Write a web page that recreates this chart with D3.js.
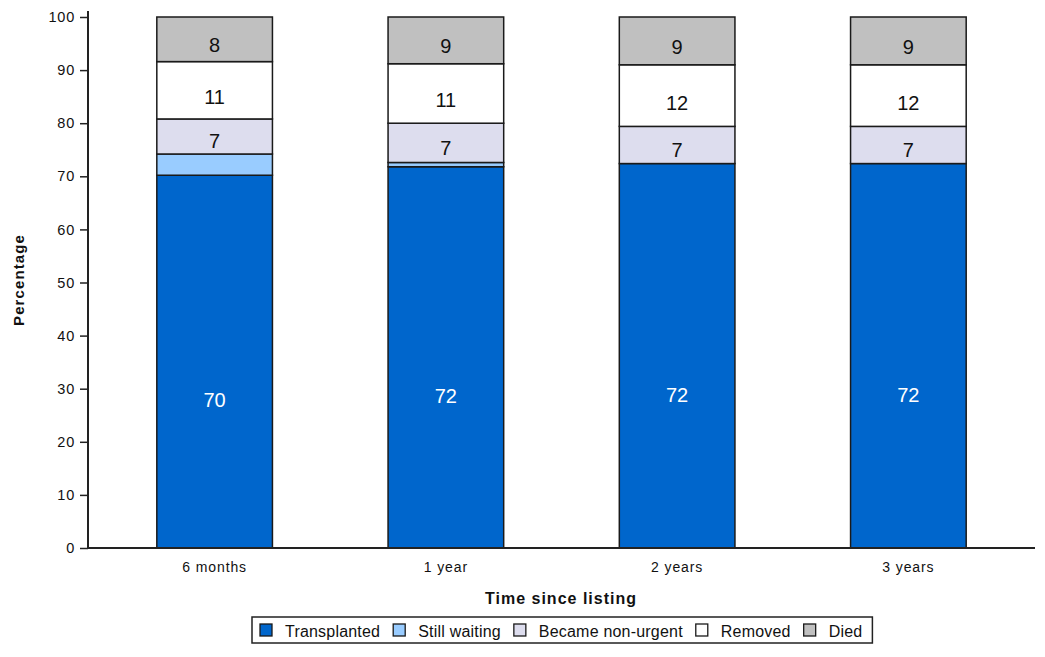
<!DOCTYPE html>
<html>
<head>
<meta charset="utf-8">
<script src="https://cdn.jsdelivr.net/npm/d3@7"></script>
<style>
  body { margin: 0; background: #fff; }
  svg text { font-family: "Liberation Sans", Arial, sans-serif; fill: #111; }
</style>
</head>
<body>
<svg id="chart"></svg>
<script>
// data (percent of patients)
const categories = ["6 months", "1 year", "2 years", "3 years"];
const transplanted = [70.2, 71.8, 72.4, 72.4];
const stillWaiting = [4.0, 0.8, 0, 0];
const nonUrgent = [6.6, 7.4, 7.0, 7.0];
const removed = [10.8, 11.2, 11.6, 11.6];
const died = [8.4, 8.8, 9.0, 9.0];
const seriesNames = ["Transplanted", "Still waiting", "Became non-urgent", "Removed", "Died"];
const seriesColors = ["#0066cc", "#99ccff", "#ddddee", "#ffffff", "#c0c0c0"];
const yTicks = [0, 10, 20, 30, 40, 50, 60, 70, 80, 90, 100];

const width = 1045;
const height = 657;

const svg = d3.select("#chart").attr("width", width).attr("height", height);

// build rows for the stack
const allSeries = [transplanted, stillWaiting, nonUrgent, removed, died];
const rows = categories.map((c, i) => {
  let row = { cat: c };
  seriesNames.forEach((s, k) => { row[s] = allSeries[k][i]; });
  return row;
});
const stacked = d3.stack().keys(seriesNames)(rows);

const xScale = d3.scaleBand()
  .domain(categories)
  .range([99, 1024])
  .paddingInner(0.5)
  .paddingOuter(0.25);

const yScale = d3.scaleLinear().domain([0, 100]).range([548, 17]);

// y axis
const yAxis = d3.axisLeft(yScale).tickValues(yTicks).tickSize(8).tickPadding(5);
const gy = svg.append("g").attr("transform", "translate(88,0)").call(yAxis);
gy.select(".domain").remove();
gy.selectAll(".tick line").attr("stroke", "#222").attr("stroke-width", 1.5);
gy.selectAll(".tick text").style("font-size", "14.5px").style("letter-spacing", "0.8px");
svg.append("line")
  .attr("x1", 88).attr("x2", 88).attr("y1", 548).attr("y2", 11)
  .attr("stroke", "#222").attr("stroke-width", 2);

// x axis
const xAxis = d3.axisBottom(xScale).tickSize(0).tickPadding(14);
const gx = svg.append("g").attr("transform", "translate(0,548)").call(xAxis);
gx.select(".domain").remove();
gx.selectAll(".tick text").style("font-size", "14px").style("letter-spacing", "0.9px");

// bars
const layers = svg.append("g").selectAll("g")
  .data(stacked)
  .enter()
  .append("g")
  .attr("fill", (d, k) => seriesColors[k]);

layers.selectAll("rect")
  .data((d) => d.filter((p) => p[1] - p[0] > 0))
  .enter()
  .append("rect")
  .attr("x", (p) => xScale(p.data.cat))
  .attr("width", xScale.bandwidth())
  .attr("y", (p) => yScale(p[1]))
  .attr("height", (p) => yScale(p[0]) - yScale(p[1]))
  .attr("stroke", "#1a1a1a")
  .attr("stroke-width", 1.5);

// segment labels (only the bigger segments carry a number)
layers.each(function (d, k) {
  d3.select(this).selectAll("text")
    .data(d.filter((p) => p[1] - p[0] >= 5))
    .enter()
    .append("text")
    .attr("x", (p) => xScale(p.data.cat) + xScale.bandwidth() / 2)
    .attr("y", (p) => yScale(p[1]) + 0.6 * (yScale(p[0]) - yScale(p[1])) + 1)
    .attr("text-anchor", "middle")
    .attr("dominant-baseline", "central")
    .style("font-size", "20px")
    .style("fill", k === 0 ? "#ffffff" : "#111")
    .text((p) => Math.round(p[1] - p[0]));
});

// x axis line drawn over the bar bottoms
svg.append("line")
  .attr("x1", 88).attr("x2", 1035).attr("y1", 548).attr("y2", 548)
  .attr("stroke", "#222").attr("stroke-width", 2);

// axis titles
svg.append("text")
  .attr("x", 561).attr("y", 598)
  .attr("text-anchor", "middle")
  .attr("dominant-baseline", "central")
  .style("font-size", "16px").style("font-weight", "bold").style("letter-spacing", "1px")
  .text("Time since listing");

svg.append("text")
  .attr("transform", "translate(18,280) rotate(-90)")
  .attr("text-anchor", "middle")
  .attr("dominant-baseline", "central")
  .style("font-size", "15px").style("font-weight", "bold").style("letter-spacing", "1.1px")
  .text("Percentage");

// legend
const legend = svg.append("g").attr("transform", "translate(252,617)");
const legendBox = legend.append("rect")
  .attr("y", 0).attr("height", 26)
  .attr("fill", "#fff").attr("stroke", "#222").attr("stroke-width", 1.5);
let lx = 8;
seriesNames.forEach((name, k) => {
  legend.append("rect")
    .attr("x", lx).attr("y", 7).attr("width", 12).attr("height", 12)
    .attr("fill", seriesColors[k]).attr("stroke", "#1a1a1a").attr("stroke-width", 1.3);
  const t = legend.append("text")
    .attr("x", lx + 25).attr("y", 14)
    .attr("dominant-baseline", "central")
    .style("font-size", "16px")
    .style("letter-spacing", "0.2px")
    .text(name);
  lx += 25 + t.node().getComputedTextLength() + 13;
});
legendBox.attr("x", 0).attr("width", lx - 3);
</script>
</body>
</html>
